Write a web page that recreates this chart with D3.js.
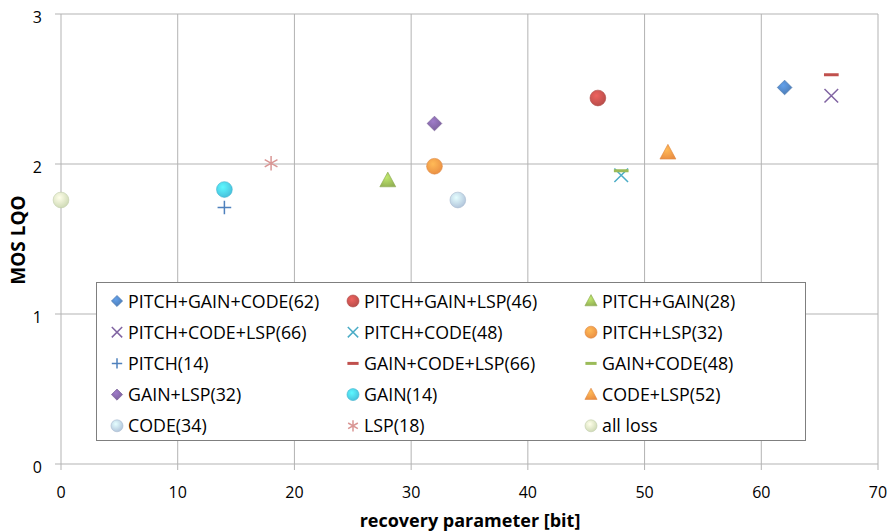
<!DOCTYPE html>
<html>
<head>
<meta charset="utf-8">
<script src="https://cdn.jsdelivr.net/npm/d3@7"></script>
<style>
  body { margin: 0; background: #fff; }
  svg { display: block; font-family: "Open Sans", "Liberation Sans", sans-serif; }
</style>
</head>
<body>
<div class="chart"></div>
<script>
// series names (legend order)
const names = [
	"PITCH+GAIN+CODE(62)", "PITCH+GAIN+LSP(46)", "PITCH+GAIN(28)",
	"PITCH+CODE+LSP(66)", "PITCH+CODE(48)", "PITCH+LSP(32)",
	"PITCH(14)", "GAIN+CODE+LSP(66)", "GAIN+CODE(48)",
	"GAIN+LSP(32)", "GAIN(14)", "CODE+LSP(52)",
	"CODE(34)", "LSP(18)", "all loss"
]
const bits = [62, 46, 28, 66, 48, 32, 14, 66, 48, 32, 14, 52, 34, 18, 0]
const mos = [2.51, 2.44, 1.89, 2.455, 1.925, 1.985, 1.71, 2.595, 1.955, 2.27, 1.83, 2.075, 1.76, 2.005, 1.76]
const shapes = ["diamond", "circle", "triangle", "x", "x", "circle", "plus", "dash", "dash", "diamond", "circle", "triangle", "circle", "star", "circle"]
const colors = ["#4f81bd", "#c0504d", "#9bbb59", "#8064a2", "#4bacc6", "#f79646", "#4f81bd", "#c0504d", "#9bbb59", "#8064a2", "#4bc8e6", "#f79646", "#b9cde5", "#d99694", "#d7e4bd"]

const xTicks = [0, 10, 20, 30, 40, 50, 60, 70]
const yTicks = [0, 1, 2, 3]

const margin = {left:61, right:11, top:14, bottom:68}
const width = 889 - margin.left - margin.right
const height = 532 - margin.top - margin.bottom

const xScale = d3.scaleLinear().domain([0, 70]).range([0, width])
const yScale = d3.scaleLinear().domain([0, 3]).range([height, 0])

let svg = d3.select(".chart")
	.append("svg")
	.attr("width", 889)
	.attr("height", 532)

let defs = svg.append("defs")
colors.forEach(function(c, i){
	let grad = defs.append("radialGradient")
		.attr("id", "g" + i)
		.attr("cx", "40%").attr("cy", "35%").attr("r", "70%")
	grad.append("stop").attr("offset", "0%").attr("stop-color", d3.color(c).brighter(0.6))
	grad.append("stop").attr("offset", "100%").attr("stop-color", d3.color(c).darker(0.15))
})

let g = svg.append("g")
	.attr("transform", "translate(" + margin.left + ", " + margin.top + ")")

// gridlines
g.selectAll(".vgrid")
	.data(xTicks)
	.enter()
	.append("line")
	.attr("x1", function(d){return xScale(d)})
	.attr("x2", function(d){return xScale(d)})
	.attr("y1", 0)
	.attr("y2", height + 6)
	.attr("stroke", "#b3b3b3")
	.attr("stroke-width", 1)

g.selectAll(".hgrid")
	.data(yTicks)
	.enter()
	.append("line")
	.attr("x1", -6)
	.attr("x2", width)
	.attr("y1", function(d){return yScale(d)})
	.attr("y2", function(d){return yScale(d)})
	.attr("stroke", "#b3b3b3")
	.attr("stroke-width", 1)

// tick labels
g.selectAll(".xlab")
	.data(xTicks)
	.enter()
	.append("text")
	.attr("x", function(d){return xScale(d)})
	.attr("y", height + 34)
	.attr("text-anchor", "middle")
	.attr("font-size", "16px")
	.attr("fill", "#000")
	.text(function(d){return d})

g.selectAll(".ylab")
	.data(yTicks)
	.enter()
	.append("text")
	.attr("x", -19)
	.attr("y", function(d){return yScale(d) + 9})
	.attr("text-anchor", "end")
	.attr("font-size", "16px")
	.text(function(d){return d})

// axis titles
svg.append("text")
	.attr("x", 470)
	.attr("y", 527)
	.attr("text-anchor", "middle")
	.attr("font-size", "18px")
	.attr("font-weight", "bold")
	.text("recovery parameter [bit]")

svg.append("text")
	.attr("transform", "translate(25, 240) rotate(-90)")
	.attr("text-anchor", "middle")
	.attr("font-size", "19px")
	.attr("font-weight", "bold")
	.text("MOS LQO")

function drawMarker(sel, shape, i, s) {
	const c = colors[i]
	const fill = "url(#g" + i + ")"
	if (shape === "circle") {
		sel.append("circle").attr("r", 7.5 * s).attr("fill", fill)
			.attr("stroke", d3.color(c).darker(0.3)).attr("stroke-width", 0.6)
	} else if (shape === "diamond") {
		const r = 7 * s
		sel.append("path").attr("d", "M0," + (-r) + "L" + r + ",0L0," + r + "L" + (-r) + ",0Z")
			.attr("fill", fill).attr("stroke", d3.color(c).darker(0.3)).attr("stroke-width", 0.6)
	} else if (shape === "triangle") {
		const r = 8 * s
		sel.append("path").attr("d", "M0," + (-r) + "L" + (r * 0.95) + "," + (r * 0.75) + "L" + (-r * 0.95) + "," + (r * 0.75) + "Z")
			.attr("fill", fill).attr("stroke", d3.color(c).darker(0.3)).attr("stroke-width", 0.6)
	} else if (shape === "x") {
		const r = 6.5 * s
		sel.append("path").attr("d", "M" + (-r) + "," + (-r) + "L" + r + "," + r + "M" + (-r) + "," + r + "L" + r + "," + (-r))
			.attr("stroke", c).attr("stroke-width", 1.5).attr("fill", "none")
	} else if (shape === "plus") {
		const r = 6.5 * s
		sel.append("path").attr("d", "M" + (-r) + ",0L" + r + ",0M0," + (-r) + "L0," + r)
			.attr("stroke", c).attr("stroke-width", 1.5).attr("fill", "none")
	} else if (shape === "dash") {
		const r = 7 * s
		sel.append("path").attr("d", "M" + (-r) + ",0L" + r + ",0")
			.attr("stroke", c).attr("stroke-width", 3).attr("fill", "none")
	} else if (shape === "star") {
		const r = 7 * s
		let d = ""
		for (let k = 0; k < 3; k++) {
			const a = Math.PI / 6 + k * Math.PI / 3 + Math.PI / 3
			d += "M" + (-r * Math.cos(a)) + "," + (-r * Math.sin(a)) + "L" + (r * Math.cos(a)) + "," + (r * Math.sin(a))
		}
		d += "M0," + (-r) + "L0," + r
		sel.append("path").attr("d", d)
			.attr("stroke", c).attr("stroke-width", 1.5).attr("fill", "none")
	}
}

// points
names.forEach(function(n, i){
	let p = g.append("g")
		.attr("transform", "translate(" + xScale(bits[i]) + "," + yScale(mos[i]) + ")")
	drawMarker(p, shapes[i], i, 1.05)
})

// legend
let legend = svg.append("g")
legend.append("rect")
	.attr("x", 96.5)
	.attr("y", 282.5)
	.attr("width", 709)
	.attr("height", 158)
	.attr("fill", "#fff")
	.attr("stroke", "#7f7f7f")
	.attr("stroke-width", 1)

const colX = [117, 353, 591]
names.forEach(function(n, i){
	const cx = colX[i % 3]
	const cy = 301 + Math.floor(i / 3) * 31.2
	let item = legend.append("g").attr("transform", "translate(" + cx + "," + cy + ")")
	drawMarker(item, shapes[i], i, 0.8)
	legend.append("text")
		.attr("x", cx + 11)
		.attr("y", cy + 6.5)
		.attr("font-size", "17.8px")
		.text(n)
})
</script>
</body>
</html>
